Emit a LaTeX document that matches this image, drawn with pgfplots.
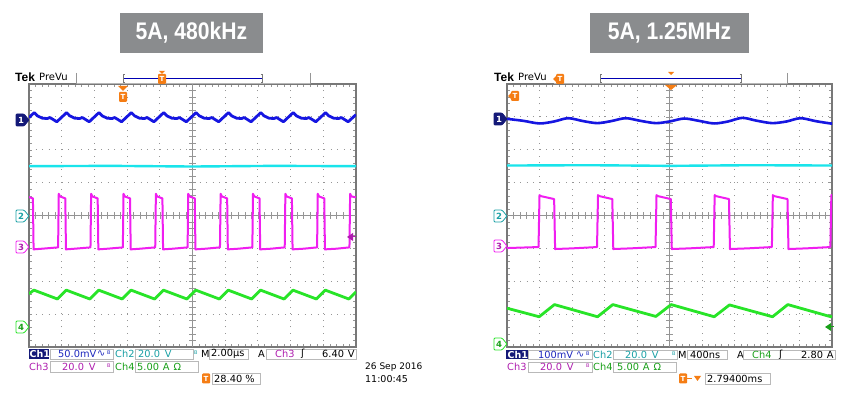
\documentclass[border=0pt]{standalone}
\usepackage{pgfplots}
\pgfplotsset{compat=1.18}
\usepackage{fontspec}
\setmainfont{DejaVu Sans}
\newfontfamily\titlefont[FakeStretch=0.88]{Liberation Sans}
\newfontfamily\tekfont{Liberation Sans}
\definecolor{tblue}{RGB}{22,22,225}
\definecolor{tcyan}{RGB}{25,228,235}
\definecolor{tmag}{RGB}{240,30,240}
\definecolor{tgreen}{RGB}{40,228,40}
\definecolor{lblue}{RGB}{30,40,190}
\definecolor{lteal}{RGB}{25,160,165}
\definecolor{lpurp}{RGB}{175,30,175}
\definecolor{lgreen}{RGB}{25,160,25}
\definecolor{navy}{RGB}{20,25,120}
\definecolor{torange}{RGB}{245,125,20}
\definecolor{tbox}{RGB}{138,140,142}
\definecolor{grat}{RGB}{150,150,150}
\definecolor{framec}{RGB}{120,120,120}
\definecolor{ibox}{RGB}{185,185,185}
\pgfplotsset{tekscope/.style={
  scale only axis, height=263pt,
  xmin=0,xmax=10,ymin=0,ymax=8,
  axis background/.style={fill=white},
  axis line style={draw=framec, line width=1.4pt},
  xtick={0,...,10}, ytick={0,...,8},
  minor x tick num=4, minor y tick num=4,
  xticklabels={}, yticklabels={},
  tick align=inside, major tick length=3pt, minor tick length=3pt,
  tick style={grat, line width=0.5pt},
  grid=major,
  major grid style={grat, line width=0.9pt, dash pattern=on 0.9pt off 5.66pt},
  clip=true,
  every axis plot/.append style={mark=none, line join=round},
}}
\tikzset{inf/.style={font=\fontsize{9.8}{10}\selectfont, inner sep=0pt, anchor=west},
  bw/.style={font=\fontsize{5}{5}\selectfont, inner sep=0pt, anchor=west}}
\newcommand{\chmark}[6]{%
  \filldraw[draw=#3,fill=#5,line width=0.8pt,rounded corners=1pt] (#1-13,#2-6)--(#1-5,#2-6)--(#1,#2)--(#1-5,#2+6)--(#1-13,#2+6)--cycle;
  \node[text=#6,font=\bfseries\fontsize{8.5}{8.5}\selectfont,inner sep=0pt] at (#1-8,#2) {#4};}
\newcommand{\tmark}[2]{%
  \fill[torange, rounded corners=1pt] (#1-4,#2-5) rectangle (#1+4,#2+5);
  \node[white, font=\bfseries\fontsize{7}{7}\selectfont, inner sep=0pt] at (#1,#2) {T};}
\newcommand{\crosshair}{%
  \draw[framec!80, line width=0.8pt] (axis cs:5,0)--(axis cs:5,8);
  \draw[framec!80, line width=0.8pt] (axis cs:0,4)--(axis cs:10,4);
  \pgfplotsinvokeforeach{0.2,0.4,...,9.8}{\draw[grat,line width=0.6pt] (axis cs:##1,3.9)--(axis cs:##1,4.1);}
  \pgfplotsinvokeforeach{0.2,0.4,...,7.8}{\draw[grat,line width=0.6pt] (axis cs:4.9,##1)--(axis cs:5.1,##1);}}
\begin{document}
\begin{tikzpicture}[x=1pt,y=1pt]
\path[use as bounding box, fill=white] (0,0) rectangle (842,395);

% ---------------- left scope: 5A, 480kHz ----------------
\begin{axis}[tekscope, width=327pt, at={(29pt,48pt)}, anchor=south west]
\crosshair
\addplot[tcyan, line width=2.4pt] coordinates {(0,5.50) (2.5,5.51) (5,5.49) (7.5,5.51) (10,5.50)};
\addplot[tblue, line width=2.8pt] coordinates {
(0,6.98) (0.16,7.13) (0.26,7.03) (0.41,6.96) (0.56,6.95) (0.64,6.98) (0.74,6.92) (0.85,6.85)
(1.15,7.13) (1.25,7.03) (1.40,6.96) (1.55,6.95) (1.63,6.98) (1.73,6.92) (1.84,6.85)
(2.14,7.13) (2.24,7.03) (2.39,6.96) (2.54,6.95) (2.62,6.98) (2.72,6.92) (2.83,6.85)
(3.13,7.13) (3.23,7.03) (3.38,6.96) (3.53,6.95) (3.61,6.98) (3.71,6.92) (3.82,6.85)
(4.12,7.13) (4.22,7.03) (4.37,6.96) (4.52,6.95) (4.60,6.98) (4.70,6.92) (4.81,6.85)
(5.11,7.13) (5.21,7.03) (5.36,6.96) (5.51,6.95) (5.59,6.98) (5.69,6.92) (5.80,6.85)
(6.10,7.13) (6.20,7.03) (6.35,6.96) (6.50,6.95) (6.58,6.98) (6.68,6.92) (6.79,6.85)
(7.09,7.13) (7.19,7.03) (7.34,6.96) (7.49,6.95) (7.57,6.98) (7.67,6.92) (7.78,6.85)
(8.08,7.13) (8.18,7.03) (8.33,6.96) (8.48,6.95) (8.56,6.98) (8.66,6.92) (8.77,6.85)
(9.07,7.13) (9.17,7.03) (9.32,6.96) (9.47,6.95) (9.55,6.98) (9.65,6.92) (9.76,6.85)
(10,7.07)};
\addplot[tmag, line width=2pt] coordinates {
(0,4.56) (0.12,4.52) (0.14,2.97) (0.40,2.99) (0.89,3.03) (0.91,4.66) (0.95,4.58) (1.11,4.52) (1.13,2.97) (1.40,2.99) (1.88,3.03) (1.90,4.66) (1.94,4.58) (2.10,4.52) (2.12,2.97) (2.40,2.99) (2.87,3.03) (2.89,4.66) (2.93,4.58) (3.09,4.52) (3.11,2.97) (3.40,2.99) (3.86,3.03) (3.88,4.66) (3.92,4.58) (4.08,4.52) (4.10,2.97) (4.40,2.99) (4.85,3.03) (4.87,4.66) (4.91,4.58) (5.07,4.52) (5.09,2.97) (5.40,2.99) (5.84,3.03) (5.86,4.66) (5.90,4.58) (6.06,4.52) (6.08,2.97) (6.40,2.99) (6.83,3.03) (6.85,4.66) (6.89,4.58) (7.05,4.52) (7.07,2.97) (7.40,2.99) (7.82,3.03) (7.84,4.66) (7.88,4.58) (8.04,4.52) (8.06,2.97) (8.40,2.99) (8.81,3.03) (8.83,4.66) (8.87,4.58) (9.03,4.52) (9.05,2.97) (9.40,2.99) (9.80,3.03) (9.82,4.66) (9.86,4.58) (10,4.55)};
\addplot[tgreen, line width=2.8pt] coordinates {
(0,1.62) (0.15,1.73) (0.87,1.46) (1.14,1.73) (1.86,1.46) (2.13,1.73) (2.85,1.46) (3.12,1.73) (3.84,1.46) (4.11,1.73) (4.83,1.46) (5.10,1.73) (5.82,1.46) (6.09,1.73) (6.81,1.46) (7.08,1.73) (7.80,1.46) (8.07,1.73) (8.79,1.46) (9.06,1.73) (9.78,1.46) (10,1.68)};
\end{axis}

% ---------------- right scope: 5A, 1.25MHz ----------------
\begin{axis}[tekscope, width=325pt, at={(507pt,48pt)}, anchor=south west]
\crosshair
\addplot[tcyan, line width=2.4pt] coordinates {(0,5.52) (2.5,5.53) (5,5.51) (7.5,5.53) (10,5.52)};
\addplot[tblue, line width=2.6pt, smooth] coordinates {
(0,6.94) (0.5,6.88) (1.0,6.80) (1.45,6.86) (1.88,6.96) (2.35,6.87) (2.78,6.81) (3.2,6.87) (3.65,6.96) (4.1,6.88) (4.58,6.81) (5.0,6.86) (5.45,6.95) (5.9,6.88) (6.37,6.80) (6.8,6.86) (7.24,6.97) (7.7,6.88) (8.16,6.81) (8.6,6.86) (9.03,6.96) (9.5,6.87) (9.95,6.80) (10,6.80)};
\addplot[tmag, line width=2pt] coordinates {
(0,3.01) (0.97,3.04) (1.00,4.62) (1.04,4.59) (1.45,4.50) (1.48,2.98) (2.0,3.00) (2.77,3.04) (2.80,4.62) (2.84,4.59) (3.24,4.50) (3.27,2.98) (3.8,3.00) (4.57,3.04) (4.60,4.62) (4.64,4.59) (5.04,4.50) (5.07,2.98) (5.6,3.00) (6.36,3.04) (6.39,4.62) (6.43,4.59) (6.83,4.50) (6.86,2.98) (7.4,3.00) (8.15,3.04) (8.18,4.62) (8.22,4.59) (8.63,4.50) (8.66,2.98) (9.2,3.00) (9.95,3.04) (9.98,4.62) (10,4.61)};
\addplot[tgreen, line width=2.8pt] coordinates {
(0,1.18) (0.99,0.92) (1.46,1.29) (2.785,0.92) (3.255,1.29) (4.58,0.93) (5.05,1.29) (6.375,0.92) (6.845,1.28) (8.17,0.92) (8.64,1.29) (9.965,0.92) (10,0.95)};
\end{axis}

\begin{scope}[yshift=395pt, y=-1pt]
% titles
\fill[tbox] (120,13) rectangle (263,53);
\node[white, font=\titlefont\bfseries\fontsize{24}{24}\selectfont] at (191.5,33) {5A, 480kHz};
\fill[tbox] (590,13) rectangle (749,53);
\node[white, font=\titlefont\bfseries\fontsize{24}{24}\selectfont] at (669.5,33) {5A, 1.25MHz};

% headers
\node[anchor=west, inner sep=0pt, font=\tekfont\bfseries\fontsize{12}{12}\selectfont] at (15,77) {Tek};
\node[anchor=west, inner sep=0pt, font=\fontsize{10}{10}\selectfont] at (39,77) {PreVu};
\draw[grat!70] (76,83.5)--(310,83.5);
\draw[grat] (76,73)--(76,84); \draw[grat] (310,73)--(310,84);
\draw[blue!70!black, line width=0.8pt] (123,78)--(262,78);
\draw[framec] (124.5,74)--(123,74)--(123,82)--(124.5,82);
\draw[framec] (260.5,74)--(262,74)--(262,82)--(260.5,82);
\tmark{162}{79}
\fill[torange] (159,71)--(165,71)--(162,74)--cycle;
\fill[torange] (118,86)--(128,86)--(123,91)--cycle;
\tmark{123}{97}

\node[anchor=west, inner sep=0pt, font=\tekfont\bfseries\fontsize{12}{12}\selectfont] at (494,77) {Tek};
\node[anchor=west, inner sep=0pt, font=\fontsize{10}{10}\selectfont] at (518,77) {PreVu};
\draw[grat!70] (554,83.5)--(787,83.5);
\draw[grat] (787,73)--(787,84);
\draw[blue!70!black, line width=0.8pt] (600,78)--(741,78);
\draw[framec] (601.5,74)--(600,74)--(600,82)--(601.5,82);
\draw[framec] (739.5,74)--(741,74)--(741,82)--(739.5,82);
\fill[torange] (553,79)--(556,76)--(556,82)--cycle;
\tmark{560}{79}
\fill[torange] (668,72)--(674,72)--(671,75)--cycle;
\fill[torange] (665,85)--(677,85)--(671,90)--cycle;
\fill[torange] (508,96)--(511,93)--(511,99)--cycle;
\tmark{515}{96}

% channel markers
\chmark{29}{120}{navy}{1}{navy}{white}
\chmark{29}{216}{lteal}{2}{white}{lteal}
\chmark{29}{247}{tmag}{3}{white}{lpurp}
\chmark{29}{327}{tgreen}{4}{white}{lgreen}
\chmark{507}{119}{navy}{1}{navy}{white}
\chmark{507}{216}{lteal}{2}{white}{lteal}
\chmark{507}{246}{tmag}{3}{white}{lpurp}
\chmark{507}{344}{tgreen}{4}{white}{lgreen}
% trigger level arrows
\fill[lpurp] (347,237)--(353,233)--(353,241)--cycle; \draw[lpurp, line width=1pt] (353,237)--(356,237);
\fill[lgreen] (825,327)--(831,323)--(831,331)--cycle; \draw[lgreen, line width=1pt] (831,327)--(834,327);

% ---- left info ----
\fill[navy] (29,349) rectangle (49,359);
\node[inf, text=white, font=\bfseries\fontsize{9.5}{10}\selectfont] at (29.5,354) {Ch1};
\draw[ibox, line width=0.6pt] (50,349) rectangle (113,359);
\node[inf, text=lblue] at (58,354) {50.0mV};
\node[inf, text=lblue] at (97,354) {∿};
\node[bw, text=lblue] at (107,353) {B};
\node[inf, text=lteal] at (115,354) {Ch2};
\draw[ibox, line width=0.6pt] (135,349) rectangle (193,359);
\node[inf, text=lteal] at (138,354) {20.0\hspace{0.5em}V};
\node[bw, text=lteal] at (194,353) {B};
\node[inf] at (201,354) {M};
\draw[ibox, line width=0.6pt] (209,349) rectangle (248,359);
\node[inf] at (211,354) {2.00µs};
\node[inf] at (258,354) {A};
\draw[ibox, line width=0.6pt] (266,349) rectangle (356,359);
\node[inf, text=lpurp] at (275,354) {Ch3};
\node[inf] at (301,354) {ʃ};
\node[inf] at (322,354) {6.40\hspace{0.4em}V};

\node[inf, text=lpurp] at (29,366.5) {Ch3};
\draw[ibox, line width=0.6pt] (50,361) rectangle (113,372);
\node[inf, text=lpurp] at (62,366.5) {20.0\hspace{0.5em}V};
\node[bw, text=lpurp] at (107,365.5) {B};
\node[inf, text=lgreen] at (115,366.5) {Ch4};
\draw[ibox, line width=0.6pt] (135,361) rectangle (198,372);
\node[inf, text=lgreen] at (137,366.5) {5.00\hspace{0.4em}A\hspace{0.4em}Ω};

\tmark{206}{378.5}
\draw[ibox, line width=0.6pt] (212,373) rectangle (260,384);
\node[inf] at (214,378.5) {28.40 \%};

\node[inf, font=\fontsize{9}{10}\selectfont] at (365,367) {26 Sep 2016};
\node[inf, font=\fontsize{9.5}{10}\selectfont] at (365,379) {11:00:45};

% ---- right info ----
\fill[navy] (506,350) rectangle (528,359);
\node[inf, text=white, font=\bfseries\fontsize{9.5}{10}\selectfont] at (507.5,354.5) {Ch1};
\draw[ibox, line width=0.6pt] (528,350) rectangle (592,359);
\node[inf, text=lblue] at (538,354.5) {100mV};
\node[inf, text=lblue] at (576,354.5) {∿};
\node[bw, text=lblue] at (586,353.5) {B};
\node[inf, text=lteal] at (593,354.5) {Ch2};
\draw[ibox, line width=0.6pt] (613,350) rectangle (677,359);
\node[inf, text=lteal] at (625,354.5) {20.0\hspace{0.5em}V};
\node[bw, text=lteal] at (672,353.5) {B};
\node[inf] at (678,354.5) {M};
\draw[ibox, line width=0.6pt] (687,350) rectangle (727,359);
\node[inf] at (690,354.5) {400ns};
\node[inf] at (737,354.5) {A};
\draw[ibox, line width=0.6pt] (743,350) rectangle (835,359);
\node[inf, text=lgreen] at (752,354.5) {Ch4};
\node[inf] at (779,354.5) {ʃ};
\node[inf] at (801,354.5) {2.80\hspace{0.4em}A};

\node[inf, text=lpurp] at (507,367) {Ch3};
\draw[ibox, line width=0.6pt] (528,362) rectangle (592,372);
\node[inf, text=lpurp] at (540,367) {20.0\hspace{0.5em}V};
\node[bw, text=lpurp] at (586,366) {B};
\node[inf, text=lgreen] at (593,367) {Ch4};
\draw[ibox, line width=0.6pt] (613,362) rectangle (676,372);
\node[inf, text=lgreen] at (617,367) {5.00\hspace{0.4em}A\hspace{0.4em}Ω};

\tmark{683}{378.5}
\draw[torange, line width=0.8pt] (687,378.5)--(692,378.5);
\fill[torange] (694,376)--(701,376)--(697.5,381)--cycle;
\draw[ibox, line width=0.6pt] (705,373) rectangle (770,384);
\node[inf] at (707,378.5) {2.79400ms};
\end{scope}
\end{tikzpicture}
\end{document}
